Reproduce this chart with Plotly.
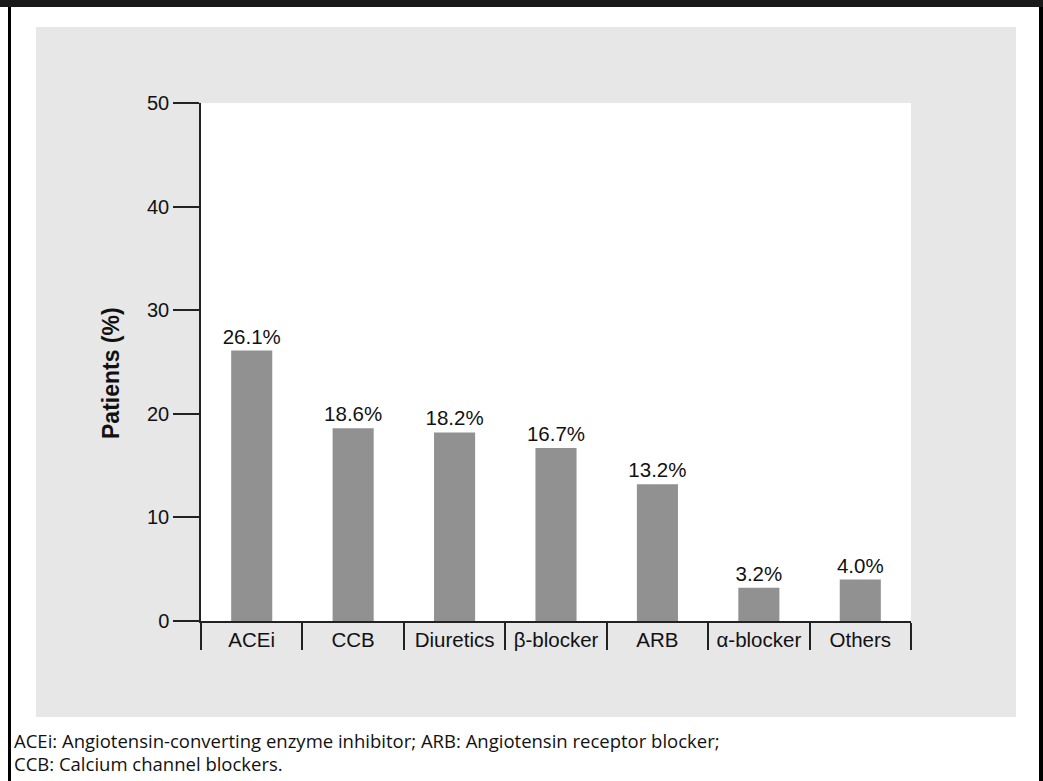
import plotly.graph_objects as go

categories = ["ACEi", "CCB", "Diuretics", "β-blocker", "ARB", "α-blocker", "Others"]
values = [26.1, 18.6, 18.2, 16.7, 13.2, 3.2, 4.0]
labels = [f"{v:.1f}%" for v in values]
y_ticks = [0, 10, 20, 30, 40, 50]
y_title = "Patients (%)"
footnote_1 = "ACEi: Angiotensin-converting enzyme inhibitor; ARB: Angiotensin receptor blocker;"
footnote_2 = "CCB: Calcium channel blockers."

W, H = 1043, 781
L, R, T, B = 201, 132, 103, 160
PW, PH = W - L - R, H - T - B


def px(x):
    return (x - L) / PW


def py(y):
    return (H - B - y) / PH


sans = "Liberation Sans, Arial"

fig = go.Figure(
    go.Bar(
        x=categories,
        y=values,
        text=labels,
        textposition="outside",
        constraintext="none",
        textfont=dict(family=sans, size=20.5, color="#111"),
        marker=dict(color="#919191", line=dict(width=0)),
        cliponaxis=False,
    )
)

axis_color = "#222"
fig.update_layout(
    width=W,
    height=H,
    margin=dict(l=L, r=R, t=T, b=B, autoexpand=False),
    paper_bgcolor="white",
    plot_bgcolor="white",
    bargap=0.595,
    showlegend=False,
    font=dict(family=sans, size=20, color="#111"),
    xaxis=dict(
        type="category",
        range=[-0.5, len(categories) - 0.5],
        showline=True,
        linecolor=axis_color,
        linewidth=1.5,
        ticks="outside",
        tickson="boundaries",
        ticklen=27,
        tickwidth=1.5,
        tickcolor=axis_color,
        showgrid=False,
        tickfont=dict(family=sans, size=20.5, color="#111"),
        automargin=False,
    ),
    yaxis=dict(
        range=[0, 50],
        tickvals=y_ticks,
        showline=True,
        linecolor=axis_color,
        linewidth=1.5,
        ticks="outside",
        ticklen=26,
        tickwidth=1.5,
        tickcolor=axis_color,
        showgrid=False,
        zeroline=False,
        tickfont=dict(family=sans, size=20, color="#111"),
        automargin=False,
    ),
    shapes=[
        dict(type="rect", xref="paper", yref="paper", layer="below",
             x0=px(36), x1=px(1016), y0=py(717), y1=py(27),
             fillcolor="#e7e7e7", line=dict(width=0)),
        dict(type="rect", xref="paper", yref="paper", layer="below",
             x0=px(201), x1=px(911), y0=py(621), y1=py(103),
             fillcolor="white", line=dict(width=0)),
        dict(type="rect", xref="paper", yref="paper",
             x0=px(0), x1=px(1043), y0=py(7), y1=py(0),
             fillcolor="#1a1a1a", line=dict(width=0)),
        dict(type="rect", xref="paper", yref="paper",
             x0=px(8), x1=px(11), y0=py(781), y1=py(7),
             fillcolor="black", line=dict(width=0)),
        dict(type="rect", xref="paper", yref="paper",
             x0=px(1039), x1=px(1043), y0=py(781), y1=py(7),
             fillcolor="black", line=dict(width=0)),
    ],
    annotations=[
        dict(text=f"<b>{y_title}</b>", xref="paper", yref="paper", x=px(111), y=py(373),
             xanchor="center", yanchor="middle", textangle=-90, showarrow=False,
             font=dict(family=sans, size=23, color="#111")),
        dict(text=footnote_1, xref="paper", yref="paper", x=px(12), y=py(726),
             xanchor="left", yanchor="top", showarrow=False,
             font=dict(family="Open Sans, Noto Sans", size=18.5, color="#111")),
        dict(text=footnote_2, xref="paper", yref="paper", x=px(12), y=py(749),
             xanchor="left", yanchor="top", showarrow=False,
             font=dict(family="Open Sans, Noto Sans", size=18.5, color="#111")),
    ],
)

fig.write_html("out.html")
